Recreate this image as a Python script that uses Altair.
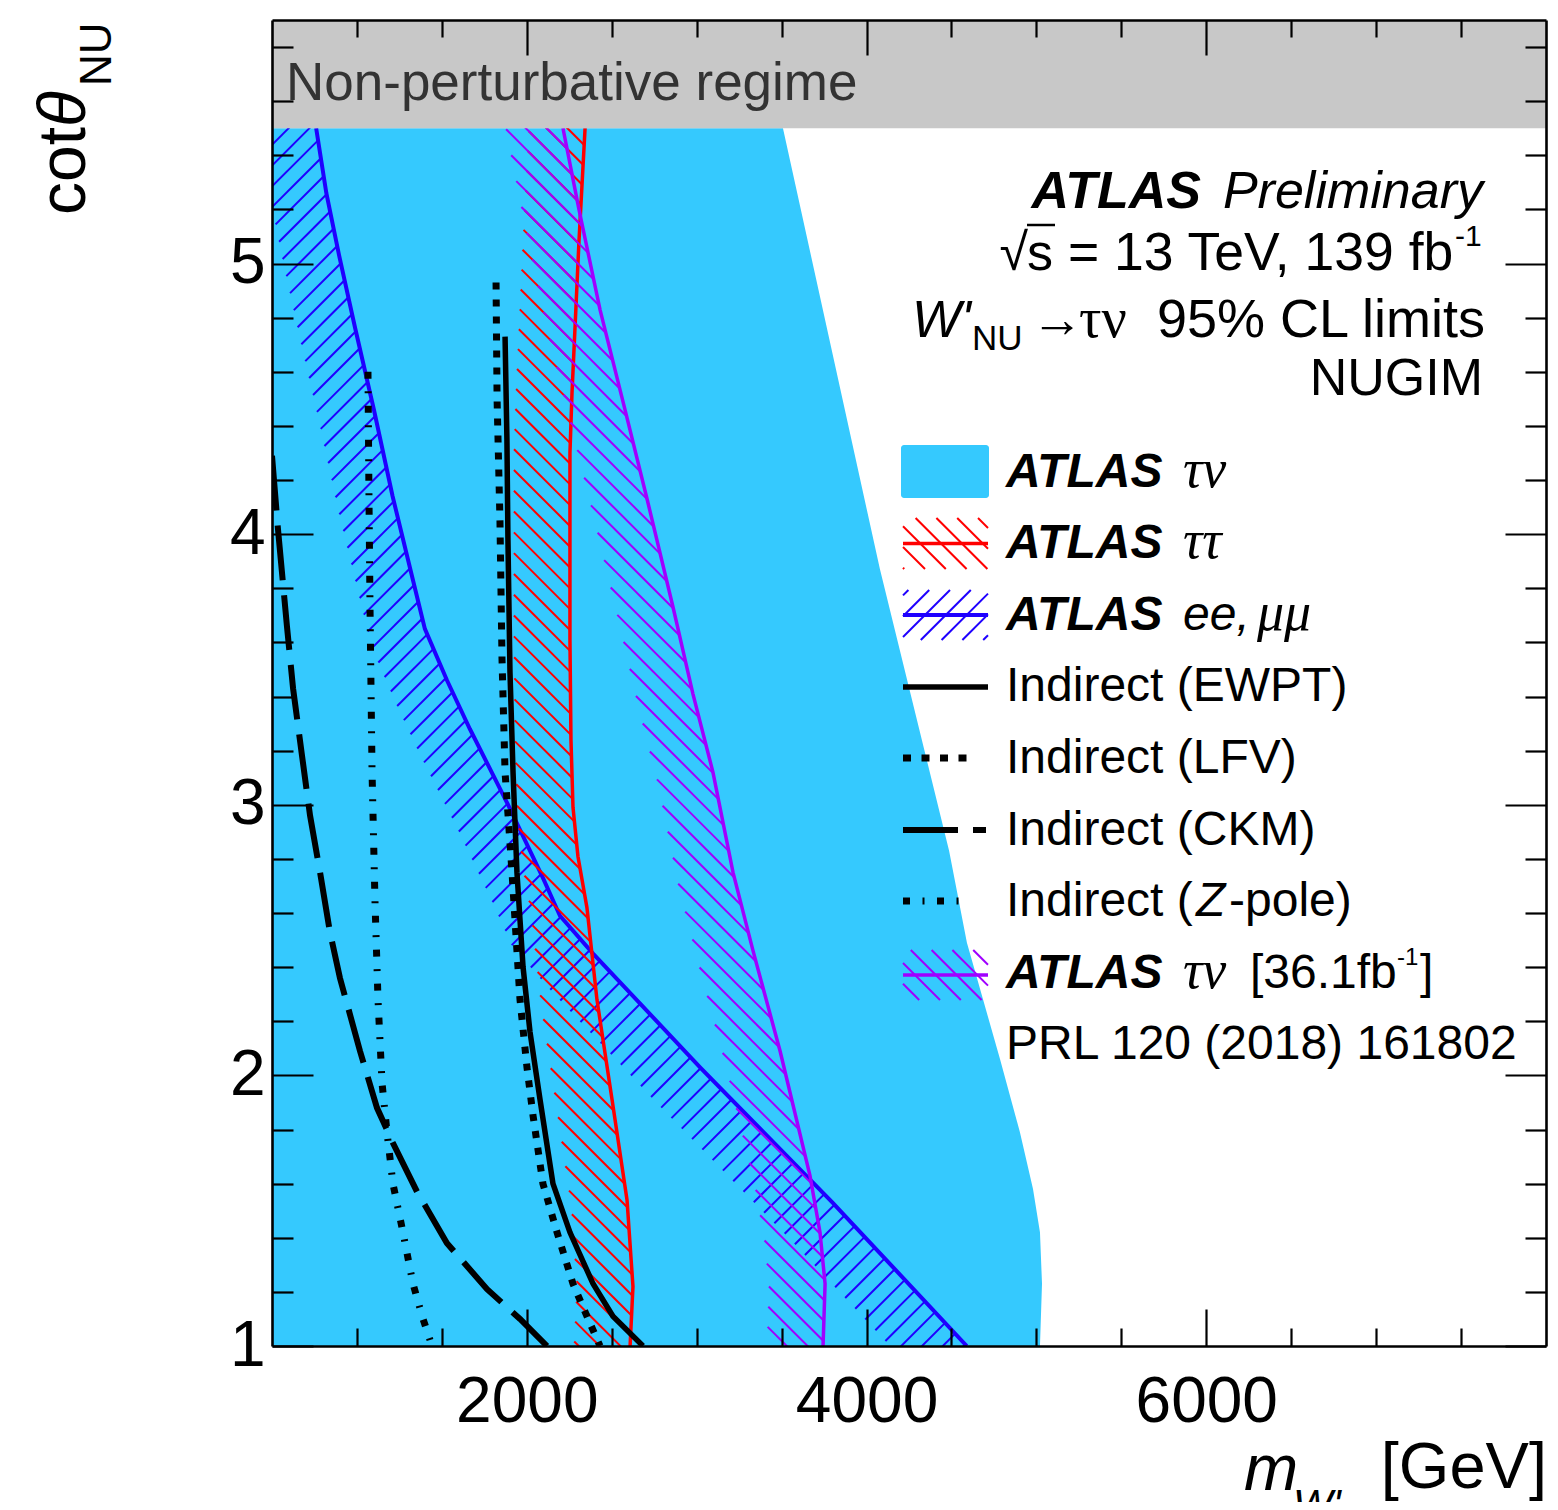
import numpy as np
import pandas as pd
import altair as alt

# ------------------------------------------------------------------
# Values (m_W' in GeV, cot(theta_NU))
# ------------------------------------------------------------------
# ATLAS tau-nu, 139 fb-1 : filled exclusion, right boundary
tv_mass = [3508, 4079, 4486, 4591, 4686, 4786, 4903, 4980, 5021, 5033, 5021]
tv_cot = [5.50, 3.87, 2.83, 2.49, 2.28, 2.06, 1.79, 1.58, 1.42, 1.23, 1.00]

# ATLAS tau-tau
tt_mass = [2343, 2307, 2266, 2254, 2254, 2260, 2272, 2301, 2354, 2413, 2502, 2590, 2625, 2608]
tt_cot = [5.50, 5.08, 4.52, 4.30, 3.61, 3.24, 2.99, 2.81, 2.62, 2.28, 1.91, 1.54, 1.22, 1.00]

# ATLAS ee, mumu
ll_mass = [760, 820, 895, 990, 1100, 1210, 1330, 1400, 1530, 1665, 1890, 2095, 2195, 2390, 3020, 3800, 4590]
ll_cot = [5.50, 5.26, 5.03, 4.76, 4.46, 4.14, 3.83, 3.65, 3.46, 3.28, 3.00, 2.73, 2.59, 2.45, 2.03, 1.53, 1.00]

# ATLAS tau-nu, 36.1 fb-1
tv36_mass = [2213, 2307, 2431, 2578, 2708, 2861, 2978, 3096, 3214, 3332, 3491, 3667, 3726, 3756, 3744]
tv36_cot = [5.50, 5.20, 4.83, 4.46, 4.13, 3.73, 3.41, 3.12, 2.75, 2.46, 2.09, 1.63, 1.42, 1.23, 1.00]

# Indirect limits
ewpt_mass = [1872, 1883, 1889, 1901, 1919, 1942, 1978, 2019, 2078, 2154, 2254, 2390, 2507, 2684]
ewpt_cot = [4.73, 4.35, 3.98, 3.49, 3.12, 2.75, 2.40, 2.16, 1.91, 1.60, 1.42, 1.23, 1.11, 1.00]

lfv_mass = [1819, 1825, 1842, 1854, 1872, 1913, 1960, 2001, 2037, 2095, 2178, 2272, 2354, 2431]
lfv_cot = [4.93, 4.50, 4.05, 3.54, 3.12, 2.75, 2.28, 2.03, 1.85, 1.60, 1.42, 1.23, 1.11, 1.00]

ckm_mass = [500, 535, 588, 624, 677, 724, 783, 841, 900, 1018, 1118, 1212, 1354, 1530, 1766, 1960, 2119]
ckm_cot = [4.29, 4.02, 3.66, 3.43, 3.18, 2.96, 2.75, 2.53, 2.36, 2.09, 1.88, 1.75, 1.57, 1.38, 1.21, 1.10, 1.00]

zpole_mass = [1065, 1071, 1077, 1089, 1106, 1124, 1148, 1177, 1212, 1271, 1330, 1389, 1442]
zpole_cot = [4.60, 4.13, 3.73, 3.12, 2.65, 2.28, 1.97, 1.79, 1.60, 1.42, 1.23, 1.10, 1.00]

# Non-perturbative band
nonpert_band = [5.5, 5.9]

# Axes
x_range = [500, 8000]
y_range = [1.0, 5.9]
x_major = [2000, 4000, 6000]
x_minor = [1000, 1500, 2500, 3000, 3500, 4500, 5000, 5500, 6500, 7000, 7500]
y_major = [1, 2, 3, 4, 5]
y_minor = [1.2, 1.4, 1.6, 1.8, 2.2, 2.4, 2.6, 2.8, 3.2, 3.4, 3.6, 3.8,
           4.2, 4.4, 4.6, 4.8, 5.2, 5.4, 5.6, 5.8]

# ------------------------------------------------------------------
# Styling / layout
# ------------------------------------------------------------------
W, H = 1274, 1326            # plot area
OX, OY = 272, 20             # page position of the plot area
SANS = "Liberation Sans"
SERIF = "Liberation Serif"
CYAN = "#35c9fe"
RED = "#ff0000"
BLUE = "#1f00ff"
PURPLE = "#a000ff"
GREY = "#c8c8c8"
BAND_W = 56.0                # hatched band width (px)
HATCH_STEP = 20.8            # hatch line spacing (px, along x at fixed y)

XMIN, XMAX = x_range
YMIN, YMAX = y_range
xs = alt.Scale(domain=x_range, nice=False, zero=False)
ys = alt.Scale(domain=y_range, nice=False, zero=False)


def px_of(m, c):
    m = np.asarray(m, float)
    c = np.asarray(c, float)
    return (m - XMIN) / (XMAX - XMIN) * W, (YMAX - c) / (YMAX - YMIN) * H


def data_of(px, py):
    px = np.asarray(px, float)
    py = np.asarray(py, float)
    return XMIN + px / W * (XMAX - XMIN), YMAX - py / H * (YMAX - YMIN)


def band_polygon(m, c, width, ext=80.0):
    """Band on the low-mass side of a boundary curve (pixel space)."""
    px, py = px_of(m, c)
    P = np.column_stack([px, py])
    d0 = P[0] - P[1]
    d0 /= np.linalg.norm(d0)
    d1 = P[-1] - P[-2]
    d1 /= np.linalg.norm(d1)
    P = np.vstack([P[0] + d0 * ext, P, P[-1] + d1 * ext])
    seg = np.diff(P, axis=0)
    seg /= np.linalg.norm(seg, axis=1)[:, None]
    nseg = np.column_stack([-seg[:, 1], seg[:, 0]])
    nv = np.zeros_like(P)
    nv[0] = nseg[0]
    nv[-1] = nseg[-1]
    for i in range(1, len(P) - 1):
        mv = nseg[i - 1] + nseg[i]
        mv /= np.linalg.norm(mv)
        nv[i] = mv / max(np.dot(mv, nseg[i]), 0.5)
    Q = P + nv * width
    return np.vstack([P, Q[::-1]])


def hatch(poly, kind, step=HATCH_STEP):
    x, y = poly[:, 0], poly[:, 1]
    s = x - y if kind == "back" else x + y
    n = len(poly)
    segs = []
    c = np.floor(s.min() / step) * step
    while c <= s.max():
        pts = []
        for i in range(n):
            j = (i + 1) % n
            f1, f2 = s[i] - c, s[j] - c
            if (f1 < 0) != (f2 < 0):
                t = f1 / (f1 - f2)
                pts.append((x[i] + t * (x[j] - x[i]), y[i] + t * (y[j] - y[i])))
        pts.sort()
        for k in range(0, len(pts) - 1, 2):
            segs.append((pts[k], pts[k + 1]))
        c += step
    return segs


def segs_df(segs):
    a = np.array(segs, float)
    x1, y1 = data_of(a[:, 0, 0], a[:, 0, 1])
    x2, y2 = data_of(a[:, 1, 0], a[:, 1, 1])
    return pd.DataFrame({"x1": x1, "y1": y1, "x2": x2, "y2": y2})


def rect_poly(x1, y1, x2, y2):
    return np.array([[x1, y1], [x2, y1], [x2, y2], [x1, y2]], float)


def tick_axis(orient, values, size, labels=False):
    kw = dict(orient=orient, values=values, tickSize=size, offset=-size,
              ticks=True, domain=False, grid=False, title=None,
              tickColor="black", tickWidth=2.2, labels=labels, zindex=3)
    if labels:
        kw.update(labelFont=SANS, labelFontSize=64, labelColor="black",
                  format="d", labelFlush=False, labelOverlap=False,
                  labelPadding=24 if orient == "bottom" else 7)
    return alt.Axis(**kw)


def frame_axis(orient):
    return alt.Axis(orient=orient, domain=True, domainColor="black",
                    domainWidth=2.6, ticks=False, labels=False, grid=False,
                    title=None, offset=0, zindex=3)


def hatch_layer(df, color, xaxis=None, yaxis=None, clip=True):
    return alt.Chart(df).mark_rule(color=color, strokeWidth=2, clip=clip).encode(
        x=alt.X("x1:Q", scale=xs, axis=xaxis),
        y=alt.Y("y1:Q", scale=ys, axis=yaxis),
        x2="x2", y2="y2")


def line_layer(m, c, color, width, dash=None, xaxis=None, yaxis=None):
    kw = dict(color=color, strokeWidth=width, clip=True, strokeCap="butt")
    if dash:
        kw["strokeDash"] = dash
    df = pd.DataFrame({"m": m, "c": c, "i": list(range(len(m)))})
    return alt.Chart(df).mark_line(**kw).encode(
        x=alt.X("m:Q", scale=xs, axis=xaxis),
        y=alt.Y("c:Q", scale=ys, axis=yaxis),
        order="i:Q")


one = pd.DataFrame({"k": [0]})


def text(s, xp, yp, size, font=SANS, style="normal", weight="normal",
         align="left", color="black", angle=0):
    kw = dict(text=s, font=font, fontSize=size, fontStyle=style,
              fontWeight=weight, align=align, baseline="alphabetic", color=color)
    if angle:
        kw["angle"] = angle
    return alt.Chart(one).mark_text(**kw).encode(x=alt.value(xp - OX), y=alt.value(yp - OY))


def rule(x1p, x2p, yp, color, width, dash=None):
    kw = dict(color=color, strokeWidth=width, strokeCap="butt")
    if dash:
        kw["strokeDash"] = dash
    return alt.Chart(one).mark_rule(**kw).encode(
        x=alt.value(x1p - OX), x2=alt.value(x2p - OX), y=alt.value(yp - OY))


# ------------------------------------------------------------------
# Data layers
# ------------------------------------------------------------------
cyan = alt.Chart(pd.DataFrame({"m": tv_mass, "c": tv_cot, "b": XMIN})).mark_area(
    orient="horizontal", clip=True, color=CYAN, opacity=1).encode(
    x=alt.X("m:Q", scale=xs, axis=frame_axis("bottom")),
    x2="b",
    y=alt.Y("c:Q", scale=ys, axis=frame_axis("left")))

ll_h = segs_df(hatch(band_polygon(ll_mass, ll_cot, BAND_W), "fwd"))
tt_h = segs_df(hatch(band_polygon(tt_mass, tt_cot, BAND_W), "back"))
tv36_h = segs_df(hatch(band_polygon(tv36_mass, tv36_cot, BAND_W), "back"))

grey = alt.Chart(pd.DataFrame({"x1": [XMIN], "x2": [XMAX],
                               "y1": [nonpert_band[0]], "y2": [nonpert_band[1]]})).mark_rect(
    color=GREY, opacity=1).encode(
    x=alt.X("x1:Q", scale=xs, axis=None), x2="x2",
    y=alt.Y("y1:Q", scale=ys, axis=None), y2="y2")

layers = [
    cyan,
    hatch_layer(ll_h, BLUE, frame_axis("top"), frame_axis("right")),
    line_layer(ll_mass, ll_cot, BLUE, 4,
               xaxis=tick_axis("bottom", x_major, 37, labels=True),
               yaxis=tick_axis("left", y_major, 41, labels=True)),
    hatch_layer(tt_h, RED, tick_axis("bottom", x_minor, 18), tick_axis("left", y_minor, 21)),
    line_layer(tt_mass, tt_cot, RED, 3.5,
               xaxis=tick_axis("top", x_major, 35), yaxis=tick_axis("right", y_major, 41)),
    hatch_layer(tv36_h, PURPLE, tick_axis("top", x_minor, 17), tick_axis("right", y_minor, 21)),
    line_layer(tv36_mass, tv36_cot, PURPLE, 3.5),
    line_layer(ckm_mass, ckm_cot, "black", 6, dash=[55, 15]),
    line_layer(zpole_mass, zpole_cot, "black", 7, dash=[7, 12.5, 2, 12.5]),
    line_layer(lfv_mass, lfv_cot, "black", 7, dash=[7, 10]),
    line_layer(ewpt_mass, ewpt_cot, "black", 5.5),
    grey,
]

# ------------------------------------------------------------------
# Texts
# ------------------------------------------------------------------
layers += [
    text("Non-perturbative regime", 286, 100, 53, color="#333333"),
    # header
    text("ATLAS", 1201, 208, 52, style="italic", weight="bold", align="right"),
    text("Preliminary", 1483, 208, 52, style="italic", align="right"),
    text("\u221a", 1028, 270, 52, align="right"),
    text("s", 1027, 270, 52),
    rule(1027, 1055, 225, "black", 2.5),
    text("= 13 TeV, 139 fb", 1068, 270, 53.5),
    text("-1", 1455, 246, 30),
    text("W'", 912, 337, 52, style="italic"),
    text("NU", 972, 350, 35),
    text("\u2192", 1031, 337, 52),
    text("\u03c4\u03bd", 1079, 337, 56, font=SERIF),
    text("95% CL limits", 1485, 337, 54, align="right"),
    text("NUGIM", 1483, 395, 52, align="right"),
]

# legend texts
LX = 1006
LF = 48
rows = [487, 558, 630, 701, 773, 845, 916, 988, 1059]
layers += [
    text("ATLAS", LX, rows[0], LF, style="italic", weight="bold"),
    text("\u03c4\u03bd", 1183, rows[0], 54, font=SERIF, style="italic"),
    text("ATLAS", LX, rows[1], LF, style="italic", weight="bold"),
    text("\u03c4\u03c4", 1183, rows[1], 54, font=SERIF, style="italic"),
    text("ATLAS", LX, rows[2], LF, style="italic", weight="bold"),
    text("ee,", 1183, rows[2], LF, style="italic"),
    text("\u03bc\u03bc", 1257, rows[2], 54, font=SERIF, style="italic"),
    text("Indirect (EWPT)", LX, rows[3], LF),
    text("Indirect (LFV)", LX, rows[4], LF),
    text("Indirect (CKM)", LX, rows[5], LF),
    text("Indirect (", LX, rows[6], LF),
    text("Z", 1196, rows[6], LF, style="italic"),
    text("-pole)", 1229, rows[6], LF),
    text("ATLAS", LX, rows[7], LF, style="italic", weight="bold"),
    text("\u03c4\u03bd", 1183, rows[7], 54, font=SERIF, style="italic"),
    text("[36.1fb", 1250, rows[7], LF),
    text("-1", 1397, 965, 24),
    text("]", 1420, rows[7], LF),
    text("PRL 120 (2018) 161802", LX, rows[8], LF),
]

# legend symbols
SX1, SX2 = 903, 988
legend_cyan = alt.Chart(one).mark_rect(color=CYAN, cornerRadius=3).encode(
    x=alt.value(901 - OX), x2=alt.value(989 - OX),
    y=alt.value(445 - OY), y2=alt.value(498 - OY))


def legend_hatch(y1p, y2p, kind, color):
    poly = rect_poly(SX1 - OX, y1p - OY, SX2 - OX, y2p - OY)
    return hatch_layer(segs_df(hatch(poly, kind)), color, clip=False)


layers += [
    legend_cyan,
    legend_hatch(518, 569, "back", RED),
    rule(SX1, SX2, 543.5, RED, 3.5),
    legend_hatch(590, 640, "fwd", BLUE),
    rule(SX1, SX2, 615, BLUE, 4),
    rule(SX1, SX2, 687, "black", 5.5),
    rule(SX1, 970, 758, "black", 7, dash=[8, 10.5]),
    rule(SX1, 986, 830, "black", 6, dash=[55, 15]),
    rule(SX1, 970, 901, "black", 7, dash=[7, 12.5, 2, 12.5]),
    legend_hatch(950, 1000, "back", PURPLE),
    rule(SX1, SX2, 975, PURPLE, 3.5),
]

# axis titles
layers += [
    text("m", 1244, 1490, 65, style="italic"),
    text("W'", 1293, 1519, 42, style="italic"),
    text("[GeV]", 1547, 1488, 65, align="right"),
    text("cot", 85, 215, 66, angle=270),
    text("\u03b8", 85, 127, 66, style="italic", angle=270),
    text("NU", 111, 86, 44, angle=270),
]

chart = alt.layer(*layers).resolve_axis(x="independent", y="independent").properties(
    width=W, height=H,
    padding={"left": OX - 8, "top": OY - 8, "right": 4, "bottom": 156},
    autosize=alt.AutoSizeParams(type="none"),
    background="white",
).configure_view(strokeWidth=0)

chart.save("out.html", embed_options={"renderer": "svg", "actions": False})
